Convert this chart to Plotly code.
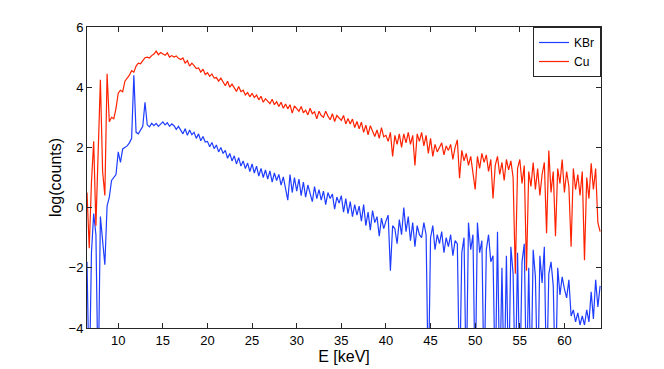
import plotly.graph_objects as go

# energy grid: 6.5 keV, step 0.25 keV
e_start = 6.5
e_step = 0.25

# log(counts), one line per keV
kbr = [
    -1.8, -6.0,
    -1.5, -0.2, -0.9, -6.0,
    -0.3, -1.1, -1.9, 0.05,
    0.35, 0.9, 1.0, 1.1,
    1.85, 1.5, 1.95, 2.0,
    2.05, 2.15, 2.3, 4.4,
    2.5, 2.45, 2.6, 2.7,
    3.5, 2.75, 2.68, 2.8,
    2.72, 2.8, 2.7, 2.78,
    2.85, 2.75, 2.82, 2.7,
    2.78, 2.72, 2.6, 2.7,
    2.55, 2.45, 2.62, 2.4,
    2.58, 2.42, 2.5, 2.3,
    2.45, 2.22, 2.36, 2.18,
    2.2, 2.02, 2.16, 1.96,
    2.08, 1.85, 2.0, 1.8,
    1.9, 1.64, 1.8, 1.55,
    1.72, 1.45, 1.66, 1.38,
    1.55, 1.3, 1.48, 1.2,
    1.45, 1.15, 1.38, 1.05,
    1.3, 1.0, 1.25, 0.95,
    1.22, 0.85, 1.15, 0.9,
    1.1, 0.75, 1.02, 0.6,
    0.25, 1.1, 0.5, 1.0,
    0.55, 0.95, 0.4, 0.85,
    0.35, 0.75, 0.45, 0.2,
    0.7, 0.3, 0.6, 0.25,
    0.55, 0.1, 0.5, 0.3,
    0.45, -0.05, 0.35, 0.15,
    0.4, -0.15, 0.3, -0.2,
    0.2, -0.3, 0.1, -0.25,
    0.05, -0.45, 0.1, -0.6,
    -0.15, -0.75, -0.1, -0.5,
    -0.3, -0.95, -0.35, -0.7,
    -0.45, -0.25, -2.1, -0.6,
    -0.7, -1.2, -0.4, -0.9,
    0.0, -0.8, -0.3, -1.1,
    -0.5, -1.3, -0.6, -0.9,
    -1.0, -0.5, -0.9, -6.0,
    -1.0, -0.6, -1.4, -0.9,
    -1.2, -0.8, -1.5, -1.0,
    -1.3, -0.9, -1.6, -1.1,
    -1.2, -6.0, -1.5, -1.0,
    -6.0, -0.5, -1.4, -0.9,
    -6.0, -0.5, -1.5, -1.1,
    -6.0, -1.4, -0.9, -1.8,
    -1.6, -6.0, -0.8, -6.0,
    -2.0, -6.0, -1.6, -6.0,
    -1.3, -2.2, -6.0, -1.5,
    -6.0, -1.8, -1.2, -6.0,
    -2.0, -6.0, -1.4, -2.3,
    -6.0, -1.6, -2.5, -1.3,
    -6.0, -2.2, -1.8, -2.6,
    -6.0, -2.0, -2.9, -2.3,
    -2.7, -3.0, -2.4, -3.6,
    -3.4, -3.8, -3.5, -3.9,
    -3.6, -3.9, -3.4, -3.8,
    -2.8, -3.7, -2.4, -3.3,
    -2.6,
]

cu = [
    0.5, -1.35,
    0.85, 2.2, -0.6, 1.9,
    4.25, 1.2, 0.4, 4.45,
    2.85, 3.0, 2.95, 3.3,
    3.8, 3.9, 3.85, 4.2,
    4.3, 4.4, 4.55, 4.5,
    4.7, 4.8, 4.78, 4.9,
    4.98, 5.0, 4.97, 5.05,
    5.1, 5.2, 5.08, 5.15,
    5.1, 5.06, 5.14, 5.0,
    5.05, 5.0, 5.04, 4.96,
    4.92, 4.97, 4.8, 4.88,
    4.7, 4.8, 4.72, 4.62,
    4.64, 4.5, 4.6, 4.42,
    4.48, 4.36, 4.44, 4.3,
    4.32, 4.2, 4.3, 4.15,
    4.05, 4.2, 4.0, 4.1,
    3.98, 3.86, 4.02, 3.85,
    3.9, 3.74, 3.82, 3.68,
    3.8, 3.66, 3.74, 3.58,
    3.7, 3.5, 3.62, 3.55,
    3.45, 3.6, 3.42, 3.52,
    3.36, 3.5, 3.3, 3.44,
    3.28, 3.42, 3.14, 3.38,
    3.3, 3.2, 3.36, 3.15,
    3.24, 3.08, 3.3, 3.12,
    3.18, 2.95, 3.2, 3.06,
    3.0, 3.2, 3.04, 2.92,
    3.12, 2.86, 3.06, 2.96,
    2.9, 3.06, 2.78, 2.96,
    2.78, 2.94, 2.66, 2.86,
    2.62, 2.84, 2.5, 2.74,
    2.42, 2.72, 2.55, 2.36,
    2.58, 2.3, 2.66, 2.35,
    2.4, 2.2, 2.5, 1.7,
    2.4, 2.1, 2.45, 2.0,
    2.45, 2.15, 2.5, 2.1,
    2.4, 1.4, 2.45, 2.2,
    2.5, 2.05, 2.4, 1.8,
    2.3, 1.7, 2.1, 1.85,
    2.0, 2.15, 1.75, 2.05,
    1.9, 2.1, 1.6, 2.0,
    2.25, 0.98, 1.9, 1.55,
    1.8, 1.4, 1.7, 1.2,
    0.6, 1.7, 1.3, 1.8,
    1.5, 1.75, 1.2, 1.6,
    0.3, 1.4, 1.7, 1.1,
    1.5, 0.9, 1.6, 1.25,
    1.55, 1.0, -2.2, 1.3,
    1.6, 0.8, 1.4, -2.1,
    1.2, 0.7, 1.5, 0.6,
    1.3, 0.4, 1.1, 1.5,
    -0.85, 1.9, 0.5, 1.2,
    -0.95, 1.3, 0.8, 1.6,
    0.5, 1.2, 0.7, -1.3,
    1.3, 0.6, 1.1, 0.4,
    1.2, -1.75, 1.0, 0.3,
    1.47, 0.6, 1.3, -0.5,
    -0.8,
]

energy = [e_start + e_step * i for i in range(len(kbr))]

fig = go.Figure()
fig.add_trace(go.Scatter(x=energy, y=kbr, mode='lines', name='KBr',
                         line=dict(color='#1f3dff', width=1.2)))
fig.add_trace(go.Scatter(x=energy, y=cu, mode='lines', name='Cu',
                         line=dict(color='#ff2200', width=1.2)))

axis_style = dict(
    showline=True, linecolor='#262626', linewidth=1, mirror='ticks',
    ticks='inside', ticklen=5, tickcolor='#262626',
    showgrid=False, zeroline=False, automargin=False,
    tickfont=dict(size=13, color='#000000'),
)

# the page body adds an 8px margin, so the figure is 8px smaller
fig.update_layout(
    width=656, height=361,
    margin=dict(l=79, r=63, t=19, b=41),
    paper_bgcolor='white', plot_bgcolor='white',
    font=dict(family='Liberation Sans, Arial, sans-serif', size=13, color='black'),
    showlegend=True,
    legend=dict(x=1, xanchor='right', y=1, yanchor='top',
                bgcolor='white', bordercolor='#262626', borderwidth=1,
                font=dict(size=12), itemwidth=30, tracegroupgap=0),
)
fig.update_xaxes(range=[6.5, 64.1], tickvals=[10, 15, 20, 25, 30, 35, 40, 45, 50, 55, 60],
                 title=dict(text='E [keV]', standoff=2), **axis_style)
fig.update_yaxes(range=[-4, 6], tickvals=[-4, -2, 0, 2, 4, 6],
                 title=dict(text='log(counts)', standoff=2), **axis_style)

fig.write_html("out.html")
